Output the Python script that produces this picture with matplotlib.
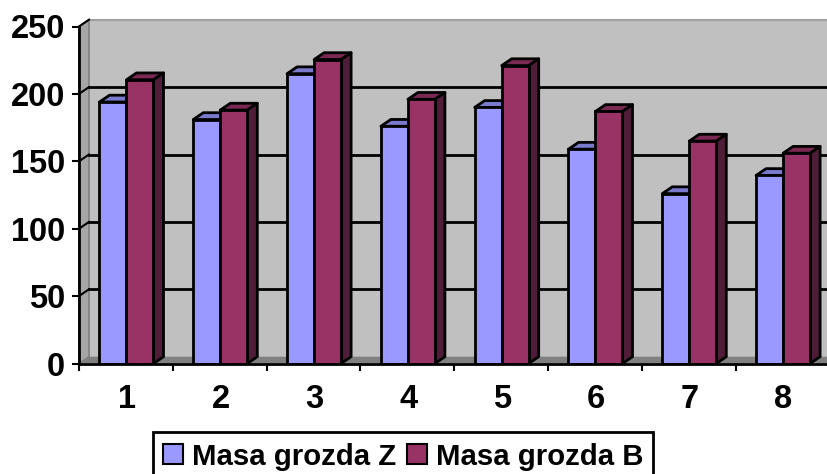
import matplotlib
matplotlib.use("Agg")
import matplotlib.pyplot as plt
from matplotlib.patches import Polygon, Patch

plt.rcParams['font.family'] = ['Liberation Sans', 'DejaVu Sans']
plt.rcParams['font.weight'] = 'bold'

categories = ['1', '2', '3', '4', '5', '6', '7', '8']
masa_z = [194, 181, 215, 176, 190, 159, 126, 139.5]
masa_b = [210.5, 188, 225.5, 196, 221, 187, 165, 156]
yticks = [0, 50, 100, 150, 200, 250]

W, H = 828, 474
pitch = 93.8
scale = 1.348
fig = plt.figure(figsize=(W / 100, H / 100), dpi=100)
ax = fig.add_axes([79 / W, 1 - 363.5 / H, (W - 79) / W, 250 * scale / H])
ax.set_xlim(0, (W - 79) / pitch)
ax.set_ylim(0, 250)

# depth of the fake 3d, in data units
dx = 10 / pitch
dy = 6.8 / scale
bw = 27 / pitch
start = 20.5 / pitch

blue, blue_top = '#9999ff', '#7a7acc'
red, red_top, red_side = '#993366', '#7a2952', '#4f1d38'
wall = '#c0c0c0'
xmax = ax.get_xlim()[1]

# back wall, side wall, floor
ax.add_patch(Polygon([(dx, dy), (xmax, dy), (xmax, 250 + dy), (dx, 250 + dy)],
                     fc=wall, ec='none', zorder=1, clip_on=False))
ax.plot([dx, xmax], [250 + dy, 250 + dy], color='#a0a0a0', lw=1.5, zorder=1.5, clip_on=False)
ax.add_patch(Polygon([(0, 0), (dx, dy), (dx, 250 + dy), (0, 250)],
                     fc='#a6a6a6', ec='#808080', lw=1.2, zorder=1.2, clip_on=False))
ax.add_patch(Polygon([(0, 0), (dx, dy), (xmax, dy), (xmax, 0)],
                     fc='#808080', ec='none', zorder=1.2, clip_on=False))

for t in yticks[1:]:
    ax.plot([0, dx], [t, t + dy], color='black', lw=1.5, zorder=2, clip_on=False)
    if t < 250:
        ax.plot([dx, xmax], [t + dy, t + dy], color='black', lw=2, zorder=2)


def bar3d(x, v, front, top, side, z):
    ax.bar(x, v, bw, align='edge', color=front, edgecolor='black', lw=2, zorder=z + 0.2)
    ax.add_patch(Polygon([(x, v), (x + dx, v + dy), (x + bw + dx, v + dy), (x + bw, v)],
                         fc=top, ec='black', lw=2, zorder=z, joinstyle='round', clip_on=False))
    if side:
        ax.add_patch(Polygon([(x + bw, 0), (x + bw + dx, dy), (x + bw + dx, v + dy), (x + bw, v)],
                             fc=side, ec='black', lw=2, zorder=z, joinstyle='round', clip_on=False))


for i in range(len(categories)):
    z = 3 + i
    bar3d(i + start, masa_z[i], blue, blue_top, None, z)
    bar3d(i + start + bw, masa_b[i], red, red_top, red_side, z + 0.5)

for s in ['top', 'right']:
    ax.spines[s].set_visible(False)
for s in ['left', 'bottom']:
    ax.spines[s].set_linewidth(2)
    ax.spines[s].set_zorder(20)

ax.set_yticks(yticks)
ax.set_xticks(range(len(categories)))
ax.set_xticklabels([])
ax.tick_params(axis='both', width=1.5, length=5, labelsize=23.5, color='black')
ax.tick_params(axis='y', pad=5)
for i, c in enumerate(categories):
    ax.annotate(c, (i + 0.5, 0), xytext=(1, -21), textcoords='offset pixels',
                ha='center', va='top', fontsize=23.5, fontweight='bold',
                annotation_clip=False)

# legend runs off the bottom edge in the original
leg = fig.legend(handles=[Patch(fc=blue, ec='black', lw=1.5, label='Masa grozda Z'),
                          Patch(fc=red, ec='black', lw=1.5, label='Masa grozda B')],
                 ncol=2, loc='lower left', bbox_to_anchor=(153 / W, -7 / H), borderaxespad=0,
                 fontsize=21.2, frameon=True, fancybox=False, edgecolor='black', framealpha=1,
                 handlelength=0.68, handleheight=0.68, handletextpad=0.3, columnspacing=0.35,
                 borderpad=0.35)
leg.get_frame().set_linewidth(2)

fig.savefig('out.png', dpi=100)
